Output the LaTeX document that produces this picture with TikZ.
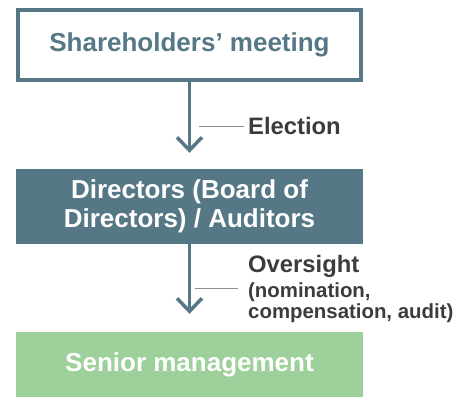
\documentclass[tikz,border=0pt]{standalone}
\usepackage{fontspec}
\setmainfont{Liberation Sans}
\usetikzlibrary{arrows.meta}

\definecolor{slate}{HTML}{567785}
\definecolor{leaf}{HTML}{9DD09A}
\definecolor{ink}{HTML}{3C3C3C}
\definecolor{tickgray}{HTML}{8A8F92}

\tikzset{
  outlinebox/.style={draw=slate, line width=4pt, minimum width=343pt, minimum height=70pt,
    inner sep=0pt, text=slate, font=\bfseries\fontsize{26}{29}\selectfont},
  fillbox/.style={minimum width=347pt, inner sep=0pt, text=white, align=center,
    font=\bfseries\fontsize{26}{29}\selectfont},
  flow/.style={draw=slate, line width=3.5pt, -{Straight Barb[length=13pt,width=25pt,line width=3.5pt]}},
  tick/.style={draw=tickgray, line width=0.9pt},
  note/.style={text=ink, inner ysep=0pt, font=\bfseries\fontsize{23.8}{23.8}\selectfont}
}

\begin{document}
\begin{tikzpicture}[x=1pt,y=-1pt]
                \useasboundingbox (0,0) rectangle (473,406);
                % the three levels
                \node [outlinebox] (meeting) at (189.5,45) {Shareholders’ meeting};
                \node [fillbox, fill=slate, minimum height=75pt] (board) at (189.5,206.5) {Directors (Board of\\Directors) / Auditors};
                \node [fillbox, fill=leaf, minimum height=65pt] (mgmt) at (189.5,364.5) {Senior management};
                % arrows between levels
                \draw [flow, shorten >=16pt] (meeting.south) -- (board.north);
                \draw [flow, shorten >=18pt] (board.south) -- (mgmt.north);
                % side notes
                \node [note, anchor=west, inner xsep=4pt] (elect) at (244,126) {Election};
                \coordinate (electtick) at (199,126);
                \draw [tick] (electtick) -- (elect.west);
                \node [note, anchor=west, inner xsep=10pt, align=left, font=\bfseries\fontsize{20.4}{20.4}\selectfont] (oversee) at (238,289)
                    {{\fontsize{23.8}{23.8}\selectfont Oversight}\\[4.6pt](nomination,\\compensation, audit)};
                \coordinate (overseetick) at (195,288);
                \draw [tick] (overseetick) -- (overseetick -| oversee.west);
            \end{tikzpicture}
\end{document}
